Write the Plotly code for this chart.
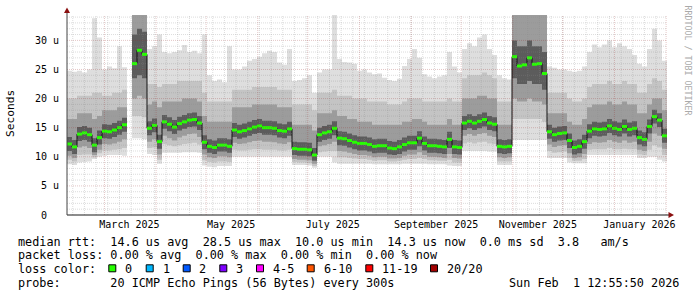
import plotly.graph_objects as go
from datetime import datetime, timedelta

# ---------------- data ----------------
END_TIME = datetime(2026, 2, 1, 12, 55, 50)
SPAN_DAYS = 360
STEP_DAYS = 3
START_TIME = END_TIME - timedelta(days=SPAN_DAYS)

median = [12.2, 11.7, 13.9, 14.1, 13.8, 12.0, 13.3, 14.4, 14.3, 14.6, 15.0, 15.5, None,
          26.0, 28.3, 27.6,
          14.9, 15.4, 12.6, 16.0, 15.6, 15.1, 15.7, 16.0, 16.3, 16.4, 15.8,
          12.5, 11.8, 11.6, 12.0, 12.0, 11.8,
          14.6, 14.3, 14.5, 14.8, 15.1, 15.3, 15.0, 15.0, 14.9, 14.5, 14.4, 14.8,
          11.4, 11.3, 11.3, 11.2, 10.3,
          13.8, 14.1, 14.3, 14.9,
          13.2, 13.1, 12.8, 12.5, 12.3, 12.3, 12.1, 11.8, 11.9, 11.9, 11.5, 11.4, 11.7,
          12.1, 12.4, 12.4, 13.2, 12.3, 11.9, 11.9, 11.8, 11.7, 13.0,
          11.7, 11.6,
          15.8, 16.1, 15.8, 16.1, 16.4, 15.8, 15.6,
          11.8, 11.7, 11.8,
          27.2, 25.6, 25.8, 27.0, 25.9, 26.0, 24.3,
          14.3, 13.8, 14.0, 14.1,
          12.8, 11.6, 11.8, 12.6,
          14.4, 14.8, 14.7, 14.8, 15.3, 14.9, 14.7, 15.2, 14.7, 14.9,
          13.3, 13.0, 15.2, 16.9, 16.3, 13.6]

hi1 = [24.8, 24.6, 24.8, 24.5, 25.0, 33.8, 30.5, 25.0, 25.5, 25.2, 29.0, 25.4, None,
       38, 38, 38,
       28.5, 29.0, 31.0, 28.0, 27.8, 28.0, 28.3, 29.2, 28.0, 28.2, 27.8,
       31.0, 24.0, 23.0, 23.3, 22.8, 29.0,
       25.0, 25.0, 25.5, 26.5, 26.8, 27.2, 27.8, 28.2, 28.0, 26.2, 25.8, 28.5,
       23.0, 23.2, 23.5, 24.0, 21.0,
       24.5, 25.0, 25.0, 35.0,
       26.8, 26.3, 26.2, 26.0, 24.8, 25.0, 24.5, 24.2, 24.3, 23.6, 23.2, 23.0, 23.4,
       25.6, 26.8, 28.5, 27.0, 24.2, 23.8, 23.5, 23.8, 24.0, 28.0,
       25.5, 24.5,
       28.5, 29.5, 29.0, 30.5, 31.0, 28.5, 27.5,
       24.0, 23.5, 23.3,
       38, 38, 38, 38, 38, 38, 38,
       25.5, 25.3, 25.0, 25.0,
       24.8, 24.6, 24.8, 25.5,
       28.0, 29.3, 28.8, 29.3, 30.0, 28.8, 29.5, 29.0, 28.5, 27.5,
       26.0, 25.5, 28.5, 32.0, 30.0, 26.5]

hi2 = [20.0, 20.0, 20.5, 20.5, 20.5, 21.0, 21.0, 20.5, 20.5, 21.0, 21.0, 21.5, None,
       37, 37, 37,
       22.5, 22.5, 22.0, 22.5, 22.5, 22.5, 23.0, 23.0, 23.0, 23.0, 23.0,
       21.0, 19.5, 19.5, 19.5, 19.5, 19.5,
       21.5, 21.5, 21.5, 21.5, 22.0, 22.0, 22.0, 22.0, 22.0, 21.5, 21.5, 21.5,
       19.0, 19.0, 19.0, 19.0, 18.0,
       21.0, 21.0, 21.0, 21.5,
       20.5, 20.5, 20.5, 20.0, 20.0, 20.0, 19.5, 19.5, 19.5, 19.5, 19.0, 19.0, 19.0,
       19.5, 20.0, 20.0, 20.0, 19.5, 19.5, 19.5, 19.5, 19.5, 20.0,
       19.5, 19.5,
       23.5, 24.0, 24.0, 24.0, 24.5, 24.0, 23.5,
       19.5, 19.5, 19.5,
       37, 37, 37, 37, 37, 37, 37,
       21.0, 21.0, 21.0, 21.0,
       20.0, 19.5, 19.5, 20.0,
       22.0, 22.5, 22.5, 22.5, 23.0, 22.5, 22.5, 23.0, 22.5, 22.5,
       21.0, 21.0, 22.5, 23.5, 23.0, 21.5]

hi3 = [16.5, 16.5, 17.5, 17.5, 17.5, 16.5, 17.0, 18.0, 18.0, 18.0, 18.5, 18.5, None,
       36.0, 36.0, 36.0,
       19.0, 19.5, 18.5, 19.5, 19.5, 19.5, 19.5, 20.0, 20.0, 20.0, 19.5,
       17.0, 16.0, 16.0, 16.0, 16.0, 16.0,
       18.5, 18.5, 18.5, 18.5, 19.0, 19.0, 19.0, 19.0, 19.0, 18.5, 18.5, 18.5,
       15.5, 15.5, 15.5, 15.5, 14.5,
       17.5, 17.5, 17.5, 18.0,
       17.0, 17.0, 16.5, 16.5, 16.0, 16.0, 16.0, 15.5, 15.5, 15.5, 15.5, 15.5, 15.5,
       16.0, 16.0, 16.5, 16.5, 16.0, 15.5, 15.5, 15.5, 15.5, 16.5,
       15.5, 15.5,
       20.0, 20.0, 20.0, 20.5, 20.5, 20.0, 20.0,
       15.5, 15.5, 15.5,
       36.0, 36.0, 36.0, 36.0, 36.0, 36.0, 36.0,
       17.5, 17.5, 17.5, 17.5,
       16.0, 15.5, 15.5, 16.5,
       18.5, 19.0, 19.0, 19.0, 19.5, 19.0, 19.0, 19.5, 19.0, 19.0,
       17.5, 17.5, 19.0, 20.0, 20.0, 18.0]

hi4 = [13.4, 12.9, 15.1, 15.3, 15.0, 13.2, 14.5, 15.6, 15.5, 15.8, 16.2, 16.7, None,
       31.0, 32.0, 31.5,
       16.1, 16.6, 13.8, 17.2, 16.8, 16.3, 16.9, 17.2, 17.5, 17.6, 17.0,
       13.7, 13.0, 12.8, 13.2, 13.2, 13.0,
       15.8, 15.5, 15.7, 16.0, 16.3, 16.5, 16.2, 16.2, 16.1, 15.7, 15.6, 16.0,
       12.6, 12.5, 12.5, 12.4, 11.5,
       15.0, 15.3, 15.5, 16.1,
       14.4, 14.3, 14.0, 13.7, 13.5, 13.5, 13.3, 13.0, 13.1, 13.1, 12.7, 12.6, 12.9,
       13.3, 13.6, 13.6, 14.4, 13.5, 13.1, 13.1, 13.0, 12.9, 14.3,
       12.9, 12.8,
       17.0, 17.3, 17.0, 17.3, 17.6, 17.0, 16.8,
       13.0, 12.9, 13.0,
       30.0, 29.0, 29.0, 30.0, 29.0, 29.0, 28.0,
       15.5, 15.0, 15.2, 15.3,
       14.0, 12.8, 13.0, 13.8,
       15.6, 16.0, 15.9, 16.0, 16.5, 16.1, 15.9, 16.4, 15.9, 16.1,
       14.5, 14.2, 16.4, 18.1, 17.5, 14.8]

lo4 = [11.0, 10.5, 12.7, 12.9, 12.6, 10.8, 12.1, 13.2, 13.1, 13.4, 13.8, 14.3, None,
       23.5, 24.0, 23.5,
       13.7, 14.2, 11.4, 14.8, 14.4, 13.9, 14.5, 14.8, 15.1, 15.2, 14.6,
       11.3, 10.7, 10.5, 10.9, 10.9, 10.7,
       13.4, 13.1, 13.3, 13.6, 13.9, 14.1, 13.8, 13.8, 13.7, 13.3, 13.2, 13.6,
       10.3, 10.2, 10.2, 10.1, 9.3,
       12.6, 12.9, 13.1, 13.7,
       12.0, 11.9, 11.6, 11.3, 11.1, 11.1, 10.9, 10.6, 10.7, 10.7, 10.4, 10.3, 10.5,
       10.9, 11.2, 11.2, 11.8, 11.1, 10.7, 10.7, 10.6, 10.5, 11.5,
       10.5, 10.4,
       14.6, 14.9, 14.6, 14.9, 15.2, 14.6, 14.4,
       10.6, 10.5, 10.6,
       23.5, 22.5, 22.5, 23.0, 22.5, 22.5, 21.5,
       13.1, 12.6, 12.8, 12.9,
       11.5, 10.4, 10.6, 11.4,
       13.2, 13.6, 13.5, 13.6, 14.1, 13.7, 13.5, 14.0, 13.5, 13.7,
       12.1, 11.8, 14.0, 15.7, 15.1, 12.4]

lo3 = [10.2, 9.8, 11.6, 11.8, 11.5, 10.3, 11.2, 12.2, 12.1, 12.3, 12.6, 13.0, None,
       20.0, 20.5, 20.0,
       12.6, 13.0, 10.4, 13.6, 13.2, 12.8, 13.3, 13.6, 13.9, 14.0, 13.4,
       10.4, 9.9, 9.8, 10.1, 10.1, 9.9,
       12.4, 12.2, 12.3, 12.5, 12.7, 12.8, 12.6, 12.6, 12.5, 12.3, 12.2, 12.5,
       9.6, 9.5, 9.5, 9.4, 8.8,
       11.8, 12.0, 12.2, 12.6,
       11.0, 10.9, 10.7, 10.5, 10.3, 10.3, 10.2, 9.9, 10.0, 10.0, 9.7, 9.7, 9.8,
       10.2, 10.4, 10.4, 10.8, 10.3, 10.0, 10.0, 9.9, 9.8, 10.5,
       9.8, 9.7,
       13.6, 13.9, 13.6, 13.9, 14.1, 13.6, 13.4,
       9.9, 9.8, 9.9,
       20.0, 19.5, 19.5, 20.0, 19.5, 19.5, 19.0,
       12.1, 11.7, 11.9, 12.0,
       10.6, 9.8, 9.9, 10.5,
       12.2, 12.5, 12.4, 12.5, 12.9, 12.6, 12.4, 12.8, 12.4, 12.6,
       11.2, 11.0, 12.6, 14.0, 13.6, 11.4]

lo2 = [9.5, 9.2, 10.3, 10.4, 10.4, 9.9, 10.6, 11.1, 11.1, 11.2, 11.3, 11.5, None,
       17.0, 17.0, 16.8,
       11.5, 11.6, 9.5, 12.2, 12.0, 11.8, 12.0, 12.2, 12.3, 12.4, 12.1,
       9.4, 9.1, 9.0, 9.2, 9.2, 9.1,
       11.2, 11.1, 11.1, 11.2, 11.3, 11.3, 11.2, 11.2, 11.2, 11.1, 11.1, 11.2,
       9.1, 9.0, 9.0, 8.9, 8.4,
       10.8, 10.9, 11.0, 11.0,
       9.9, 9.9, 9.8, 9.7, 9.6, 9.6, 9.5, 9.3, 9.4, 9.4, 9.2, 9.2, 9.3,
       9.5, 9.6, 9.6, 9.8, 9.6, 9.4, 9.4, 9.3, 9.3, 9.5,
       9.0, 9.0,
       12.3, 12.5, 12.3, 12.5, 12.6, 12.3, 12.2,
       9.2, 9.2, 9.2,
       16.5, 16.5, 16.5, 16.5, 16.5, 16.5, 16.0,
       11.0, 10.7, 10.8, 10.9,
       9.8, 9.3, 9.3, 9.6,
       11.2, 11.3, 11.3, 11.3, 11.5, 11.3, 11.3, 11.4, 11.3, 11.3,
       10.4, 10.3, 11.2, 12.0, 11.6, 10.3]

lo1 = [8.7, 8.6, 9.0, 9.1, 9.2, 9.6, 10.0, 10.2, 10.3, 10.3, 10.3, 10.2, None,
       13.2, 13.2, 13.0,
       10.5, 10.3, 8.8, 10.7, 10.7, 10.7, 10.7, 10.8, 10.8, 10.8, 10.7,
       8.5, 8.3, 8.2, 8.4, 8.4, 8.4,
       10.0, 10.0, 10.0, 10.0, 10.0, 10.0, 10.0, 10.0, 10.0, 10.0, 10.0, 10.0,
       8.6, 8.6, 8.6, 8.5, 8.1,
       10.0, 10.0, 10.0, 9.0,
       8.8, 8.8, 8.8, 8.8, 8.8, 8.8, 8.8, 8.7, 8.7, 8.7, 8.7, 8.7, 8.7,
       8.8, 8.8, 8.8, 8.8, 8.8, 8.7, 8.7, 8.7, 8.7, 8.5,
       8.4, 8.4,
       11.0, 11.0, 11.0, 11.0, 11.0, 10.9, 10.9,
       8.6, 8.6, 8.6,
       12.9, 12.9, 12.9, 12.9, 12.9, 12.9, 12.9,
       9.8, 9.8, 9.8, 9.8,
       9.0, 8.9, 8.9, 8.9,
       10.3, 10.3, 10.3, 10.3, 10.3, 10.3, 10.3, 10.3, 10.3, 10.3,
       9.8, 9.8, 10.0, 10.0, 9.5, 9.2]

y_tick_vals = [0, 5, 10, 15, 20, 25, 30]
y_tick_text = ["0  ", "5 u", "10 u", "15 u", "20 u", "25 u", "30 u"]
Y_MAX = 34.36

x_label_months = ["2025-03-01", "2025-05-01", "2025-07-01", "2025-09-01", "2025-11-01", "2026-01-01"]
x_label_text = ["March 2025", "May 2025", "July 2025", "September 2025", "November 2025", "January 2026"]

legend_rows = [
    "median rtt:  14.6 us avg  28.5 us max  10.0 us min  14.3 us now  0.0 ms sd  3.8   am/s",
    "packet loss: 0.00 % avg  0.00 % max  0.00 % min  0.00 % now",
]
loss_labels = ["0", "1", "2", "3", "4-5", "6-10", "11-19", "20/20"]
loss_colors = ["#26ff00", "#00b8ff", "#0059ff", "#7e00ff", "#ff00ff", "#ff5500", "#ff0000", "#a10000"]
probe_text = "20 ICMP Echo Pings (56 Bytes) every 300s"
stamp_text = "Sun Feb  1 12:55:50 2026"

# ---------------- layout helpers ----------------
W, H = 697, 297
PL, PR, PT, PB = 67, 667, 15, 215
FONT = "DejaVu Sans Mono"


def px_x(p):
    return (p - PL) / (PR - PL)


def px_y(p):
    return (PB - p) / (PB - PT)


def nb(s):
    return s.replace(" ", "\u00a0")


times = [START_TIME + timedelta(days=STEP_DAYS * i) for i in range(len(median))]
edge_times = times + [START_TIME + timedelta(days=STEP_DAYS * len(median))]

# contiguous runs (skip missing columns)
runs = []
cur = []
for i, m in enumerate(median):
    if m is None:
        if cur:
            runs.append(cur)
        cur = []
    else:
        cur.append(i)
if cur:
    runs.append(cur)

fig = go.Figure()

bands = [(lo1, hi1, "#dedede"), (lo2, hi2, "#c4c4c4"), (lo3, hi3, "#9c9c9c"), (lo4, hi4, "#5c5c5c")]
for lo, hi, col in bands:
    for run in runs:
        xs = [times[i] for i in run] + [edge_times[run[-1] + 1]]
        ylo = [lo[i] for i in run] + [lo[run[-1]]]
        yhi = [hi[i] for i in run] + [hi[run[-1]]]
        fig.add_trace(go.Scatter(x=xs, y=ylo, mode="lines", line=dict(width=0, shape="hv"),
                                 hoverinfo="skip", showlegend=False))
        fig.add_trace(go.Scatter(x=xs, y=yhi, mode="lines", line=dict(width=0, shape="hv"),
                                 fill="tonexty", fillcolor=col, hoverinfo="skip", showlegend=False))

# median: thin black step + green level marks
for run in runs:
    xs = [times[i] for i in run] + [edge_times[run[-1] + 1]]
    ys = [median[i] for i in run] + [median[run[-1]]]
    fig.add_trace(go.Scatter(x=xs, y=ys, mode="lines", line=dict(width=1, color="#111111", shape="hv"),
                             hoverinfo="skip", showlegend=False))
gx, gy = [], []
for i, m in enumerate(median):
    if m is None:
        continue
    gx += [times[i], edge_times[i + 1], None]
    gy += [m, m, None]
fig.add_trace(go.Scatter(x=gx, y=gy, mode="lines", line=dict(width=3, color=loss_colors[0]),
                         hoverinfo="skip", showlegend=False))

shapes = []
GRID_MINOR = "rgba(140,140,140,0.30)"
GRID_MAJOR = "rgba(150,40,40,0.26)"
# horizontal grid
for v in range(1, int(Y_MAX) + 1):
    if v % 5 == 0:
        continue
    shapes.append(dict(type="line", xref="paper", yref="y", x0=0, x1=1, y0=v, y1=v,
                       line=dict(color=GRID_MINOR, width=1, dash="1px,1px"), layer="above"))
for v in y_tick_vals[1:]:
    shapes.append(dict(type="line", xref="paper", yref="y", x0=0, x1=1, y0=v, y1=v,
                       line=dict(color=GRID_MAJOR, width=1, dash="1px,1px"), layer="above"))
# vertical grid: weeks (Mondays) and months
d = datetime(2025, 2, 10)
while d < END_TIME:
    if d > START_TIME:
        shapes.append(dict(type="line", xref="x", yref="paper", x0=d, x1=d, y0=0, y1=1,
                           line=dict(color=GRID_MINOR, width=1, dash="1px,1px"), layer="above"))
    d += timedelta(days=7)
yy, mm = 2025, 3
while datetime(yy, mm, 1) < END_TIME:
    dd = datetime(yy, mm, 1)
    shapes.append(dict(type="line", xref="x", yref="paper", x0=dd, x1=dd, y0=0, y1=1,
                       line=dict(color=GRID_MAJOR, width=1, dash="1px,1px"), layer="above"))
    mm += 1
    if mm > 12:
        mm, yy = 1, yy + 1

# axes with arrows
AX = "#1a1a1a"
ARROW = "#8b1010"
shapes.append(dict(type="line", xref="paper", yref="paper", x0=px_x(PL), x1=px_x(670), y0=0, y1=0,
                   line=dict(color=AX, width=1), layer="above"))
shapes.append(dict(type="line", xref="paper", yref="paper", x0=0, x1=0, y0=0, y1=px_y(11),
                   line=dict(color="#444444", width=1), layer="above"))
shapes.append(dict(type="path", xref="paper", yref="paper",
                   path=f"M {px_x(674)} {px_y(215)} L {px_x(668.5)} {px_y(212)} L {px_x(668.5)} {px_y(218)} Z",
                   fillcolor=ARROW, line=dict(width=0), layer="above"))
shapes.append(dict(type="path", xref="paper", yref="paper",
                   path=f"M {px_x(67)} {px_y(7.5)} L {px_x(64)} {px_y(13)} L {px_x(70)} {px_y(13)} Z",
                   fillcolor=ARROW, line=dict(width=0), layer="above"))

# loss colour boxes
box_x = [108.3, 145.7, 182.7, 219.3, 256, 306.7, 365.3, 430]
lab_x = [123.3, 160.7, 197.3, 234.3, 270.7, 321.7, 380, 445]
for bx, c in zip(box_x, loss_colors):
    shapes.append(dict(type="rect", xref="paper", yref="paper", x0=px_x(bx + 0.5), x1=px_x(bx + 7.5),
                       y0=px_y(264.8), y1=px_y(271.8), fillcolor=c, line=dict(color="#000000", width=1),
                       layer="above"))

LEG_FS = 11.8
annotations = []
row_y = [241.6, 255.3, 269.0, 282.7]
for r, txt in enumerate(legend_rows):
    annotations.append(dict(x=px_x(16), y=px_y(row_y[r]), xref="paper", yref="paper", text=nb(txt),
                            showarrow=False, xanchor="left", yanchor="middle",
                            font=dict(family=FONT, size=LEG_FS, color="#000000")))
annotations.append(dict(x=px_x(16), y=px_y(row_y[2]), xref="paper", yref="paper", text=nb("loss color:"),
                        showarrow=False, xanchor="left", yanchor="middle",
                        font=dict(family=FONT, size=LEG_FS, color="#000000")))
for lx, lab in zip(lab_x, loss_labels):
    annotations.append(dict(x=px_x(lx), y=px_y(row_y[2]), xref="paper", yref="paper", text=nb(lab),
                            showarrow=False, xanchor="left", yanchor="middle",
                            font=dict(family=FONT, size=LEG_FS, color="#000000")))
annotations.append(dict(x=px_x(16), y=px_y(row_y[3]), xref="paper", yref="paper",
                        text=nb("probe:       " + probe_text),
                        showarrow=False, xanchor="left", yanchor="middle",
                        font=dict(family=FONT, size=LEG_FS, color="#000000")))
annotations.append(dict(x=px_x(680.5), y=px_y(row_y[3]), xref="paper", yref="paper", text=nb(stamp_text),
                        showarrow=False, xanchor="right", yanchor="middle",
                        font=dict(family=FONT, size=LEG_FS, color="#000000")))
annotations.append(dict(x=px_x(10.5), y=px_y(113.5), xref="paper", yref="paper", text="Seconds",
                        showarrow=False, textangle=-90, xanchor="center", yanchor="middle",
                        font=dict(family=FONT, size=11.2, color="#000000")))
annotations.append(dict(x=px_x(687.5), y=px_y(60), xref="paper", yref="paper", text=nb("RRDTOOL / TOBI OETIKER"),
                        showarrow=False, textangle=90, xanchor="center", yanchor="middle",
                        font=dict(family=FONT, size=8.3, color="#aaaaaa")))

label_pos = [datetime.fromisoformat(s) + timedelta(days=15) for s in x_label_months]

fig.update_layout(
    width=W, height=H,
    margin=dict(l=PL, r=W - PR, t=PT, b=H - PB, pad=0),
    paper_bgcolor="#ffffff", plot_bgcolor="#ffffff",
    font=dict(family=FONT, size=10, color="#000000"),
    showlegend=False,
    shapes=shapes,
    annotations=annotations,
    xaxis=dict(type="date", range=[START_TIME, END_TIME], showgrid=False, zeroline=False,
               showline=False, tickmode="array", tickvals=label_pos, ticktext=x_label_text,
               ticks="", ticklabelstandoff=2, tickfont=dict(family=FONT, size=10, color="#000000"),
               fixedrange=True),
    yaxis=dict(range=[0, Y_MAX], showgrid=False, zeroline=False, showline=False,
               tickmode="array", tickvals=y_tick_vals, ticktext=[nb(t) for t in y_tick_text],
               ticks="", ticklabelstandoff=7, tickfont=dict(family=FONT, size=10, color="#000000"),
               fixedrange=True),
)

fig.write_html("out.html")
